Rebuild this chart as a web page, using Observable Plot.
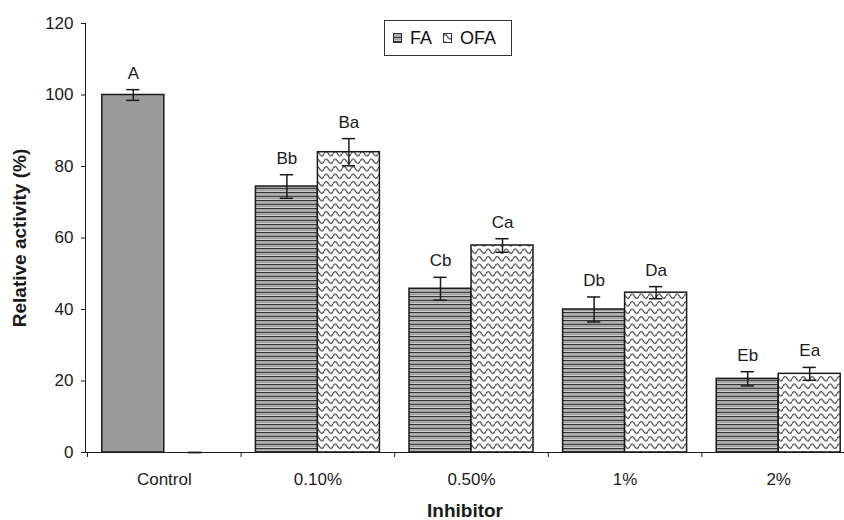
<!DOCTYPE html>
<html>
<head>
<meta charset="utf-8">
<script src="https://cdn.jsdelivr.net/npm/d3@7"></script>
<script src="https://cdn.jsdelivr.net/npm/@observablehq/plot@0.6"></script>
<style>
  body { margin: 0; background: #fff; font-family: "Liberation Sans", Arial, sans-serif; }
  #wrap { position: relative; width: 844px; height: 520px; }
  #legend {
    position: absolute; left: 384px; top: 20px; width: 128px; height: 36px;
    box-sizing: border-box; border: 1px solid #333; background: #fff;
    display: flex; align-items: center; font-size: 18px; color: #111;
    padding-left: 8px;
  }
  #legend svg { display: block; }
  #legend .lab { line-height: 1; }
  g[aria-label="y-axis label"] text, g[aria-label="x-axis label"] text { font-weight: bold; }
  g[aria-label="y-axis label"], g[aria-label="x-axis label"] { font-size: 19px; }
</style>
</head>
<body>
<div id="wrap"><div id="legend"></div></div>
<script>
// ---- data ----
const categories = ["Control", "0.10%", "0.50%", "1%", "2%"];
const seriesNames = ["FA", "OFA"];
const faValues  = [100, 74.4, 45.8, 40.0, 20.6];
const faErrors  = [1.5, 3.3, 3.2, 3.5, 2.0];
const ofaValues = [0, 84.0, 57.9, 44.7, 22.0];
const ofaErrors = [0, 3.8, 1.9, 1.7, 1.8];
const faLetters  = ["A", "Bb", "Cb", "Db", "Eb"];
const ofaLetters = ["", "Ba", "Ca", "Da", "Ea"];
const yTicks = [0, 20, 40, 60, 80, 100, 120];

// ---- table built from the arrays ----
const rows = categories.flatMap((cat, i) => [
  {cat, i, series: seriesNames[0], value: faValues[i], err: faErrors[i], letter: faLetters[i]},
  {cat, i, series: seriesNames[1], value: ofaValues[i], err: ofaErrors[i], letter: ofaLetters[i]}
]);

const BAR = 0.4036;   // bar width as a fraction of a category slot
const CAP = 0.043;    // half-width of error caps in slot units
const bx1 = d => d.series === "FA" ? d.i + 0.5 - BAR : d.i + 0.5;
const bx2 = d => d.series === "FA" ? d.i + 0.5 : d.i + 0.5 + BAR;
const bxc = d => (bx1(d) + bx2(d)) / 2;

const ink = "#1a1a1a";

const chart = Plot.plot({
  width: 844,
  height: 520,
  marginLeft: 85,
  marginRight: 0,
  marginTop: 23,
  marginBottom: 68,
  style: {fontFamily: "'Liberation Sans', Arial, sans-serif", color: ink, background: "white"},
  x: {domain: [0, 5], range: [87, 855]},
  y: {domain: [0, 120]},
  marks: [
    // bars
    Plot.rect(rows.filter(d => d.i === 0 && d.series === "FA"),
      {x1: bx1, x2: bx2, y1: 0, y2: "value", fill: "#9a9b9a", stroke: ink, strokeWidth: 1.5}),
    Plot.rect(rows.filter(d => d.i > 0 && d.series === "FA"),
      {x1: bx1, x2: bx2, y1: 0, y2: "value", fill: "url(#faPat)", stroke: ink, strokeWidth: 1.5}),
    Plot.rect(rows.filter(d => d.i > 0 && d.series === "OFA"),
      {x1: bx1, x2: bx2, y1: 0, y2: "value", fill: "url(#ofaPat)", stroke: ink, strokeWidth: 1.5}),
    // error bars
    Plot.ruleX(rows, {x: bxc, y1: d => d.value - d.err, y2: d => d.value + d.err, stroke: ink, strokeWidth: 1.5}),
    Plot.ruleY(rows, {y: d => d.value + d.err, x1: d => bxc(d) - CAP, x2: d => bxc(d) + CAP, stroke: ink, strokeWidth: 1.5}),
    Plot.ruleY(rows, {y: d => d.value - d.err, x1: d => bxc(d) - CAP, x2: d => bxc(d) + CAP, stroke: ink, strokeWidth: 1.5}),
    // significance letters
    Plot.text(rows.filter(d => d.letter), {x: bxc, y: d => d.value + d.err, text: "letter",
      dy: -11, lineAnchor: "bottom", fontSize: 17, fill: ink}),
    // axes
    Plot.frame({anchor: "left", stroke: ink}),
    Plot.ruleY([0], {stroke: ink}),
    Plot.axisY({ticks: yTicks, tickSize: 4, tickPadding: 8, fontSize: 17,
      label: "Relative activity (%)", labelAnchor: "center", labelArrow: "none", labelOffset: 73}),
    Plot.axisX([0, 1, 2, 3, 4, 5], {tickSize: 5, tickFormat: () => "", label: null}),
    Plot.axisX(categories.map((c, i) => i + 0.5), {tickSize: 0, tickPadding: 20, fontSize: 17,
      tickFormat: v => categories[Math.floor(v)],
      label: "Inhibitor", labelAnchor: "center", labelArrow: "none", labelOffset: 64})
  ]
});

// patterns
const svg = d3.select(chart);
const defs = svg.insert("defs", ":first-child");
const fa = defs.append("pattern").attr("id", "faPat").attr("patternUnits", "userSpaceOnUse")
  .attr("width", 8).attr("height", 8);
fa.append("rect").attr("width", 8).attr("height", 8).attr("fill", "#d8d8d8");
[[0, 1.3, "#333333"], [2.6, 1, "#777777"], [4, 1.3, "#444444"], [6.2, 1, "#959595"]].forEach(([y, h, c]) =>
  fa.append("rect").attr("y", y).attr("width", 8).attr("height", h).attr("fill", c));
const ofa = defs.append("pattern").attr("id", "ofaPat").attr("patternUnits", "userSpaceOnUse")
  .attr("width", 9).attr("height", 7.5);
ofa.append("rect").attr("width", 9).attr("height", 7.5).attr("fill", "#ffffff");
ofa.append("path").attr("d", "M0,3.75 C1.5,0.8 3,0.8 4.5,3.75 S7.5,6.7 9,3.75")
  .attr("fill", "none").attr("stroke", "#444").attr("stroke-width", 1.3);

document.getElementById("wrap").prepend(chart);

// legend (HTML overlay)
const legend = d3.select("#legend");
const legendItems = [
  {name: seriesNames[0], fill: "url(#faPat)", gapAfter: 11},
  {name: seriesNames[1], fill: "url(#ofaPat)", gapAfter: 0}
];
legendItems.forEach(item => {
  const s = legend.append("svg").attr("width", 9).attr("height", 10).style("margin-right", "8px");
  s.append("rect").attr("x", 0.5).attr("y", 0.5).attr("width", 8).attr("height", 9)
    .attr("fill", item.fill).attr("stroke", "#333");
  legend.append("span").attr("class", "lab").style("margin-right", item.gapAfter + "px").text(item.name);
});
</script>
</body>
</html>
